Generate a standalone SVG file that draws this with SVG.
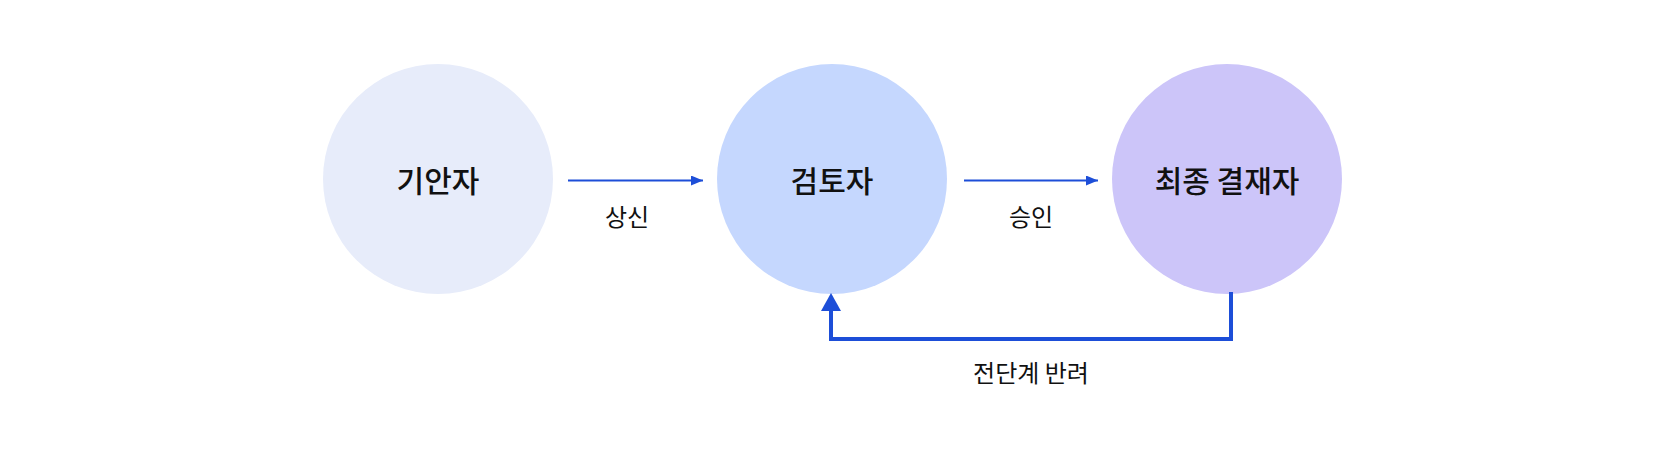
<svg xmlns="http://www.w3.org/2000/svg" width="1664" height="462" viewBox="0 0 1664 462">
<style>
.node-label{font-family:"Noto Sans CJK KR","Noto Sans",sans-serif;font-size:30px;font-weight:500;fill:#111;text-anchor:middle}
.edge-label{font-family:"Noto Sans CJK KR","Noto Sans",sans-serif;font-size:24px;font-weight:400;fill:#111;text-anchor:middle}
.edge{stroke:#1D4ED8;fill:none}
</style>
<defs>
<marker id="ah" viewBox="0 0 12 10" refX="12" refY="5" markerWidth="12" markerHeight="10" markerUnits="userSpaceOnUse" orient="auto">
<path d="M0,0 L12,5 L0,10 Z" fill="#1D4ED8"/>
</marker>
</defs>
<rect width="1664" height="462" fill="#fff"/>
<g id="node-drafter">
<circle cx="438" cy="179" r="115" fill="#E7ECFA"/>
<text class="node-label" x="438" y="192">기안자</text>
</g>
<g id="node-reviewer">
<circle cx="832" cy="179" r="115" fill="#C5D7FE"/>
<text class="node-label" x="832" y="192">검토자</text>
</g>
<g id="node-approver">
<circle cx="1227" cy="179" r="115" fill="#CCC5F9"/>
<text class="node-label" x="1227" y="192">최종 결재자</text>
</g>
<g id="connectors">
<line class="edge" x1="568" y1="180.5" x2="703" y2="180.5" stroke-width="2" marker-end="url(#ah)"/>
<text class="edge-label" x="627" y="226">상신</text>
<line class="edge" x1="964" y1="180.5" x2="1098" y2="180.5" stroke-width="2" marker-end="url(#ah)"/>
<text class="edge-label" x="1031" y="226">승인</text>
<path class="edge" d="M1231,292 V339 H831 V309" stroke-width="4"/>
<path d="M821,311 L831,293 L841,311 Z" fill="#1D4ED8"/>
<text class="edge-label" x="1031" y="382">전단계 반려</text>
</g>
</svg>
